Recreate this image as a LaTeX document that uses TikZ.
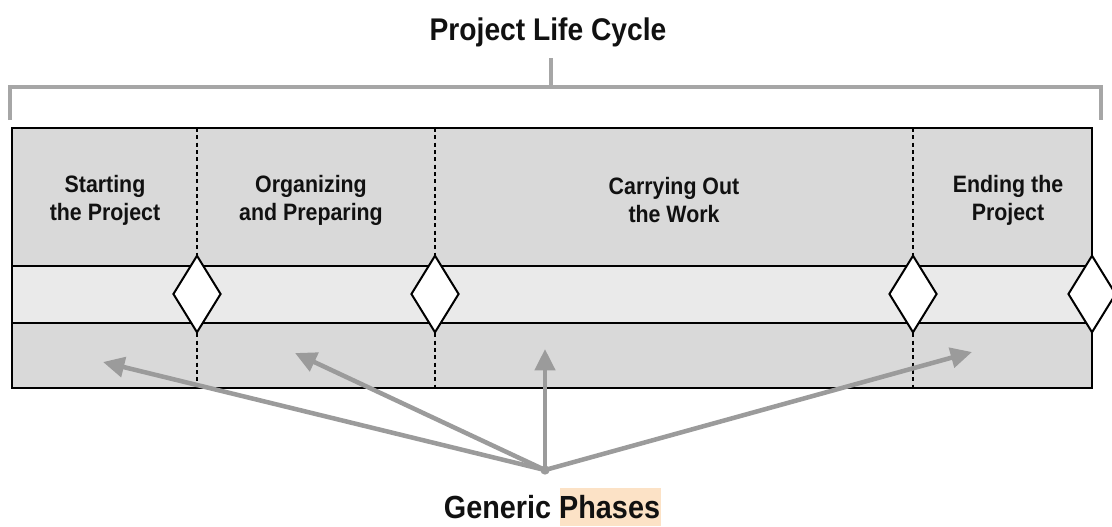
\documentclass[tikz,border=0pt]{standalone}
\usepackage{fontspec}
\setmainfont{Liberation Sans}[FakeStretch=0.9]
\usetikzlibrary{shapes.geometric,arrows.meta}
\definecolor{bandgray}{HTML}{D9D9D9}
\definecolor{stripegray}{HTML}{EAEAEA}
\definecolor{linkgray}{HTML}{9B9B9B}
\definecolor{bracketgray}{HTML}{A6A6A6}
\definecolor{inkblack}{HTML}{111111}
\definecolor{peach}{HTML}{FCE2C6}

\begin{document}
\begin{tikzpicture}[x=0.75pt,y=-0.75pt,
  phaselabel/.style={font=\bfseries\fontsize{17.8}{21}\selectfont,
    align=center, text=inkblack, inner sep=0pt},
  gate/.style={diamond, draw=black, fill=white, line width=1.5pt,
    inner sep=0pt, minimum width=36pt, minimum height=58pt},
  divider/.style={black, line width=0.8pt, dash pattern=on 3pt off 2.5pt},
  pointer/.style={linkgray, line width=3.4pt, line cap=round,
    -{Triangle[length=16pt,width=15pt]}},
  brace/.style={bracketgray, line width=3pt},
  heading/.style={font=\bfseries\fontsize{23.5}{28}\selectfont, text=inkblack, inner sep=0pt}
]
\useasboundingbox (0,0) rectangle (1112,526);

% bands of the cycle
\fill[bandgray] (12,128) rectangle (1092,266);
\fill[stripegray] (12,266) rectangle (1092,323);
\fill[bandgray] (12,323) rectangle (1092,388);

% phase boundaries
\foreach \xx in {197,435,913}
  \draw[divider] (\xx,128) -- (\xx,388);

% band rules and outline
\draw[black, line width=1.6pt] (12,266) -- (1092,266);
\draw[black, line width=1.6pt] (12,323) -- (1092,323);
\draw[black, line width=1.6pt] (12,128) rectangle (1092,388);

% phase names
\node[phaselabel] (p1) at (105,200) {Starting\\the Project};
\node[phaselabel] (p2) at (311,200) {Organizing\\and Preparing};
\node[phaselabel] (p3) at (674,200) {Carrying Out\\the Work};
\node[phaselabel] (p4) at (1008,200) {Ending the\\Project};

% pointers from the caption
\coordinate (apex) at (545,470);
\coordinate (t1) at (103,362);
\coordinate (t2) at (295,353);
\coordinate (t3) at (545,349);
\coordinate (t4) at (972,352);
\foreach \tt in {t1,t2,t3,t4}
  \draw[pointer] (apex) -- (\tt);
\fill[linkgray] (apex) circle (3.5pt);

% phase gates
\node[gate] (g1) at (197,294) {};
\node[gate] (g2) at (435,294) {};
\node[gate] (g3) at (913,294) {};
\node[gate] (g4) at (1092,294) {};

% bracket over the whole cycle
\draw[brace] (10,120) -- (10,87) -- (1101,87) -- (1101,120);
\draw[brace] (551,87) -- (551,58);
\node[heading] (title) at (548,32) {Project Life Cycle};

% caption
\fill[peach] (560,488) rectangle (661,526);
\node[heading, font=\bfseries\fontsize{24}{28}\selectfont, anchor=base] (caption) at (552,518)
  {Generic Phases};
\end{tikzpicture}
\end{document}
